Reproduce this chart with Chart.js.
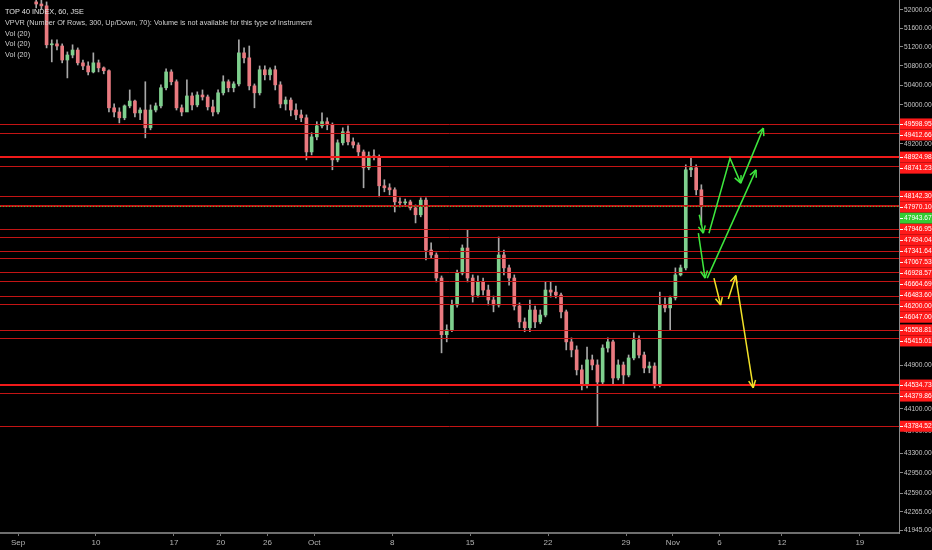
<!DOCTYPE html>
<html>
<head>
<meta charset="utf-8">
<title>TOP 40 INDEX, 60, JSE</title>
<script src="https://cdn.jsdelivr.net/npm/chart.js@4.4.1/dist/chart.umd.min.js"></script>
<style>
  html, body { margin: 0; padding: 0; background: #000; }
  #chart { display: block; }
</style>
</head>
<body>
<canvas id="chart" width="932" height="550"></canvas>
<script>
// Day index 0 = Mon 3 Sep 2018 (Heritage Day 24 Sep is not a trading day).
const firstDay = 1;
const barsPerDay = 3;
const firstOpen = 52160;

const highs = [
  52200, 52200, 52160,  51350, 51350, 51265,  51095, 51245, 51180,  50925, 50885, 51075,
  50925, 50780, 50720,  50010, 49930, 49990,  50300, 50090, 49930,  50470, 49990, 50030,
  50405, 50740, 50720,  50510, 49990, 50510,  50240, 50260, 50300,  50195, 50090, 50300,
  50595, 50510, 50470,  51350, 51180, 51220,  50425, 50800, 50800,  50760, 50800, 50470,
  50155, 50135, 50010,  49885, 49785, 49420,  49645, 49825, 49725,  49620, 49275, 49520,
  49560, 49315, 49215,  49070, 49030, 49070,  48970, 48470, 48390,  48310, 48110, 48085,
  48065, 47970, 48110,  48110, 47225, 47030,  46585, 45655, 46125,  46700, 47185, 47480,
  46605, 46585, 46545,  46410, 46200, 47340,  47085, 46795, 46605,  46070, 45785, 46125,
  46010, 45935, 46470,  46470, 46390, 46255,  45935, 45410, 45260,  44905, 45240, 45090,
  45000, 45280, 45410,  45370, 45000, 44960,  45090, 45505, 45450,  45145, 44960, 44945,
  46275, 46165, 46200,  46740, 46795, 48770,  48910, 48770, 48370
];
const lows = [
  52030, 52010, 51180,  50885, 51135, 50865,  50550, 50970, 50820,  50720, 50615, 50655,
  50675, 50635, 49845,  49745, 49620, 49685,  49930, 49745, 49685,  49315, 49480, 49845,
  49930, 50300, 50405,  49885, 49765, 49930,  49885, 49950, 50090,  49885, 49765, 49805,
  50195, 50260, 50260,  50385, 50865, 50300,  49930, 50195, 50510,  50510, 50300, 49930,
  49885, 49765, 49685,  49645, 48870, 48970,  49275, 49520, 49480,  48670, 48830, 49170,
  49170, 49110, 48930,  48310, 48670, 48870,  48130, 48230, 48170,  47830, 47930, 47950,
  47870, 47615, 47735,  46895, 46930, 46470,  45130, 45335, 45525,  45990, 46605, 46470,
  46085, 46180, 46220,  46030, 45900, 45990,  46605, 46410, 45935,  45600, 45525, 45525,
  45600, 45675, 45805,  46180, 46165, 45785,  45185, 45055, 44720,  44445, 44480, 44815,
  43790, 44535, 45145,  44535, 44630, 44535,  44685, 45000, 45035,  44760, 44760, 44480,
  44500, 45900, 45560,  46125, 46585, 46700,  48530, 48170, 47575
];
const closes = [
  52115, 52075, 51245,  51265, 51220, 50925,  51030, 51135, 50865,  50800, 50675, 50865,
  50760, 50700, 49930,  49845, 49725, 49970,  50070, 49825, 49885,  49520, 49885, 49970,
  50345, 50675, 50470,  49930, 49845, 50175,  49990, 50195, 50155,  49950, 49845, 50240,
  50470, 50345, 50425,  51075, 50970, 50385,  50240, 50720, 50615,  50720, 50405, 50010,
  50090, 49885, 49785,  49725, 49030, 49335,  49560, 49645, 49580,  48870, 49215, 49440,
  49235, 49170, 49030,  48710, 48950, 48930,  48350, 48310, 48270,  48030, 48010, 48030,
  47910, 47775, 48065,  47085, 46990, 46545,  45470, 45560, 46030,  46640, 47125, 46545,
  46220, 46470, 46315,  46125, 46030, 46990,  46740, 46545, 46010,  45710, 45600, 45935,
  45710, 45840, 46315,  46275, 46220, 45900,  45335, 45185, 44815,  44535, 45000, 44905,
  44590, 45220, 45335,  44665, 44905, 44720,  45035, 45370, 45090,  44850, 44885, 44535,
  46030, 45975, 46165,  46605, 46740, 48670,  48710, 48270, 47943.67
];
// each bar opens where the previous one closed
const opens = [firstOpen].concat(closes.slice(0, -1));

// horizontal levels drawn on the chart, top to bottom
const levels = [
  49598.95, 49412.66, 48924.98, 48741.23, 48142.30, 47970.10, 47946.95, 47494.04,
  47341.64, 47067.53, 46928.57, 46664.69, 46483.60, 46200.00, 46047.00, 45558.81,
  45415.01, 44534.73, 44379.86, 43784.52
];
const thickLevels = [48924.98, 44534.73];
const lastPrice = closes[closes.length - 1];

// projection arrows: [day index, price] points
const greenArrows = [
  [[43.70, 47775], [43.96, 47414]],
  [[44.32, 47414], [45.67, 48903], [46.36, 48403]],
  [[46.36, 48403], [47.81, 49514]],
  [[43.64, 47414], [44.07, 46543]],
  [[44.21, 46543], [47.34, 48669]]
];
const yellowArrows = [
  [[44.64, 46543], [45.07, 46030]],
  [[45.56, 46143], [46.05, 46593]],
  [[46.05, 46543], [47.16, 44486]]
];

const yTicks = [52000, 51600, 51200, 50800, 50400, 50000, 49200, 44900, 44100, 43700, 43300, 42950, 42590, 42265, 41945];
const xTickDays = [0, 5, 10, 13, 16, 19, 24, 29, 34, 39, 42, 45, 49, 54];
const xTickLabels = ['Sep', '10', '17', '20', '26', 'Oct', '8', '15', '22', '29', 'Nov', '6', '12', '19'];

const legendLines = [
  'TOP 40 INDEX, 60, JSE',
  'VPVR (Number Of Rows, 300, Up/Down, 70): Volume is not available for this type of instrument',
  'Vol (20)',
  'Vol (20)',
  'Vol (20)'
];

const upColor = '#7fd08e';
const downColor = '#e97a80';
const textFont = '8px "Liberation Sans", Arial, sans-serif';
const axisSqueeze = 0.83;
const legendSqueeze = 0.91;

function barDay(k) {
  return firstDay + Math.floor(k / barsPerDay) + ((k % barsPerDay) + 0.5) / barsPerDay;
}

function squeezedText(ctx, text, x, y, sx) {
  ctx.save();
  ctx.translate(x, y);
  ctx.scale(sx, 1);
  ctx.fillText(text, 0, 0);
  ctx.restore();
}

function drawArrow(ctx, pts, color) {
  ctx.strokeStyle = color;
  ctx.lineWidth = 1.5;
  ctx.beginPath();
  pts.forEach(function (p, i) {
    if (i === 0) ctx.moveTo(p[0], p[1]); else ctx.lineTo(p[0], p[1]);
  });
  ctx.stroke();
  const a = pts[pts.length - 2], b = pts[pts.length - 1];
  const ang = Math.atan2(b[1] - a[1], b[0] - a[0]);
  ctx.beginPath();
  [-0.45, 0.45].forEach(function (d) {
    ctx.moveTo(b[0], b[1]);
    ctx.lineTo(b[0] - 8 * Math.cos(ang + d), b[1] - 8 * Math.sin(ang + d));
  });
  ctx.stroke();
}

const overlay = {
  id: 'overlay',
  beforeDraw(chart) {
    const ctx = chart.ctx;
    ctx.save();
    ctx.fillStyle = '#000';
    ctx.fillRect(0, 0, chart.width, chart.height);
    ctx.restore();
  },
  afterDatasetsDraw(chart) {
    const { ctx, chartArea: a, scales: { x, y } } = chart;
    ctx.save();
    ctx.beginPath();
    ctx.rect(a.left, a.top, a.right - a.left, a.bottom - a.top);
    ctx.clip();

    levels.forEach(function (v) {
      const thick = thickLevels.indexOf(v) >= 0;
      const py = Math.round(y.getPixelForValue(v)) + (thick ? 0 : 0.5);
      ctx.strokeStyle = thick ? '#f01a1a' : '#c41414';
      ctx.lineWidth = thick ? 2 : 1;
      ctx.beginPath();
      ctx.moveTo(a.left, py);
      ctx.lineTo(a.right, py);
      ctx.stroke();
    });

    const lp = Math.round(y.getPixelForValue(lastPrice)) + 0.5;
    ctx.strokeStyle = '#3fbf3f';
    ctx.lineWidth = 1;
    ctx.setLineDash([1, 2]);
    ctx.beginPath();
    ctx.moveTo(a.left, lp);
    ctx.lineTo(a.right, lp);
    ctx.stroke();
    ctx.setLineDash([]);

    const toPx = function (p) { return [x.getPixelForValue(p[0]), y.getPixelForValue(p[1])]; };
    greenArrows.forEach(function (arr) { drawArrow(ctx, arr.map(toPx), '#3ee83e'); });
    yellowArrows.forEach(function (arr) { drawArrow(ctx, arr.map(toPx), '#f2e229'); });
    ctx.restore();
  },
  afterDraw(chart) {
    const { ctx, chartArea: a, scales: { y } } = chart;
    ctx.save();
    ctx.font = textFont;
    ctx.textBaseline = 'middle';
    ctx.textAlign = 'left';

    // axis tick labels
    ctx.fillStyle = '#c6c6c6';
    y.ticks.forEach(function (t) {
      squeezedText(ctx, t.value.toFixed(2), a.right + 5, y.getPixelForValue(t.value), axisSqueeze);
    });

    // price tags of the levels, pushed apart so they do not overlap
    const tags = levels.map(function (v) { return { v: v, bg: '#ff1a1a' }; });
    tags.splice(6, 0, { v: lastPrice, bg: '#33cc33' });
    let prev = -100;
    tags.forEach(function (t) {
      const py = Math.max(y.getPixelForValue(t.v), prev + 11);
      prev = py;
      ctx.fillStyle = t.bg;
      ctx.fillRect(a.right + 1, py - 5.5, chart.width - a.right - 1, 11);
      ctx.strokeStyle = '#fff';
      ctx.lineWidth = 1;
      ctx.beginPath();
      ctx.moveTo(a.right + 1, Math.round(py) + 0.5);
      ctx.lineTo(a.right + 4, Math.round(py) + 0.5);
      ctx.stroke();
      ctx.fillStyle = '#fff';
      squeezedText(ctx, t.v.toFixed(2), a.right + 5, py, axisSqueeze);
    });

    // legend text in the top-left corner
    ctx.textBaseline = 'alphabetic';
    legendLines.forEach(function (line, i) {
      ctx.fillStyle = i === 0 ? '#e2e2e2' : '#cfcfcf';
      squeezedText(ctx, line, 5, 14 + i * 10.8, legendSqueeze);
    });
    ctx.restore();
  }
};

const bodies = closes.map(function (c, k) { return { x: barDay(k), y: [opens[k], c] }; });
const wicks = closes.map(function (c, k) { return { x: barDay(k), y: [lows[k], highs[k]] }; });
const bodyColors = closes.map(function (c, k) { return c >= opens[k] ? upColor : downColor; });

new Chart(document.getElementById('chart').getContext('2d'), {
  type: 'bar',
  data: {
    datasets: [
      {
        label: 'body',
        data: bodies,
        backgroundColor: bodyColors,
        barThickness: 3,
        minBarLength: 1,
        grouped: false,
        order: 0
      },
      {
        label: 'wick',
        data: wicks,
        backgroundColor: '#a8a8a8',
        barThickness: 1,
        grouped: false,
        order: 1
      }
    ]
  },
  plugins: [overlay],
  options: {
    responsive: false,
    animation: false,
    events: [],
    layout: { padding: 0 },
    plugins: { legend: { display: false }, tooltip: { enabled: false } },
    scales: {
      x: {
        type: 'linear',
        offset: false,
        min: -1.1546,
        max: 56.51,
        afterBuildTicks: function (s) { s.ticks = xTickDays.map(function (v) { return { value: v }; }); },
        afterFit: function (s) { s.height = 17; },
        grid: { offset: false, drawOnChartArea: false, drawTicks: true, tickLength: 3, color: '#777' },
        border: { display: true, color: '#6e6e6e', width: 2 },
        ticks: {
          autoSkip: false,
          maxRotation: 0,
          padding: 2,
          color: '#b4b4b4',
          font: { family: '"Liberation Sans", Arial, sans-serif', size: 8 },
          callback: function (v, i) { return xTickLabels[i]; }
        }
      },
      y: {
        type: 'logarithmic',
        position: 'right',
        min: 41898,
        max: 52201,
        afterBuildTicks: function (s) { s.ticks = yTicks.map(function (v) { return { value: v }; }); },
        afterFit: function (s) { s.width = 33; },
        grid: { drawOnChartArea: false, drawTicks: true, tickLength: 4, color: '#8a8a8a' },
        border: { display: true, color: '#8a8a8a', width: 1 },
        ticks: { display: false }
      }
    }
  }
});
</script>
</body>
</html>
